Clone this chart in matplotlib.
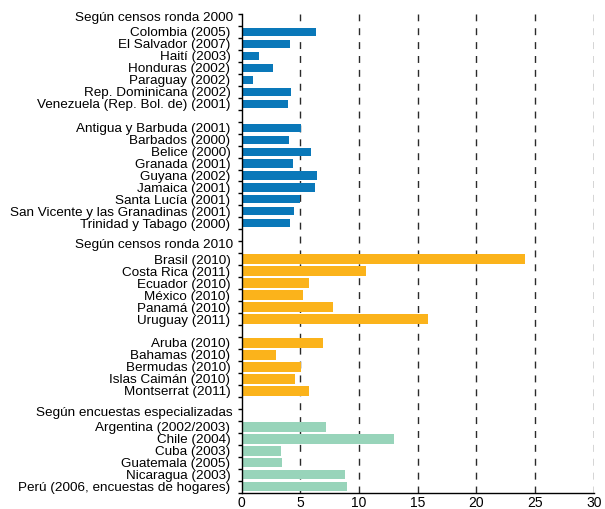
import matplotlib
matplotlib.use("Agg")
import matplotlib.pyplot as plt
import matplotlib.transforms as mtransforms

plt.rcParams['font.family'] = ['Liberation Sans', 'DejaVu Sans']

header_2000 = "Según censos ronda 2000"
censos2000_a = ["Colombia (2005)", "El Salvador (2007)", "Haití (2003)", "Honduras (2002)",
                "Paraguay (2002)", "Rep. Dominicana (2002)", "Venezuela (Rep. Bol. de) (2001)"]
censos2000_a_vals = [6.3, 4.1, 1.45, 2.65, 0.95, 4.2, 3.95]
censos2000_b = ["Antigua y Barbuda (2001)", "Barbados (2000)", "Belice (2000)", "Granada (2001)",
                "Guyana (2002)", "Jamaica (2001)", "Santa Lucía (2001)",
                "San Vicente y las Granadinas (2001)", "Trinidad y Tabago (2000)"]
censos2000_b_vals = [5.05, 4.0, 5.95, 4.35, 6.45, 6.25, 4.95, 4.45, 4.1]

header_2010 = "Según censos ronda 2010"
censos2010_a = ["Brasil (2010)", "Costa Rica (2011)", "Ecuador (2010)", "México (2010)",
                "Panamá (2010)", "Uruguay (2011)"]
censos2010_a_vals = [24.1, 10.6, 5.75, 5.25, 7.8, 15.9]
censos2010_b = ["Aruba (2010)", "Bahamas (2010)", "Bermudas (2010)", "Islas Caimán (2010)",
                "Montserrat (2011)"]
censos2010_b_vals = [6.95, 2.95, 5.05, 4.55, 5.75]

header_enc = "Según encuestas especializadas"
encuestas = ["Argentina (2002/2003)", "Chile (2004)", "Cuba (2003)", "Guatemala (2005)",
             "Nicaragua (2003)", "Perú (2006, encuestas de hogares)"]
encuestas_vals = [7.2, 13.0, 3.4, 3.45, 8.8, 9.0]

x_ticks = [0, 5, 10, 15, 20, 25, 30]

blue = "#0a78b9"
orange = "#fbb31b"
green = "#98d4ba"

# Build row layout
rows = []  # (kind, label, value, color)
rows.append(("header", header_2000, None, None))
for l, v in zip(censos2000_a, censos2000_a_vals):
    rows.append(("bar", l, v, blue))
rows.append(("gap", "", None, None))
for l, v in zip(censos2000_b, censos2000_b_vals):
    rows.append(("bar", l, v, blue))
rows.append(("gap", "", None, None))
rows.append(("header", header_2010, None, None))
for l, v in zip(censos2010_a, censos2010_a_vals):
    rows.append(("bar", l, v, orange))
rows.append(("gap", "", None, None))
for l, v in zip(censos2010_b, censos2010_b_vals):
    rows.append(("bar", l, v, orange))
rows.append(("gap", "", None, None))
rows.append(("header", header_enc, None, None))
for l, v in zip(encuestas, encuestas_vals):
    rows.append(("bar", l, v, green))

fig = plt.figure(figsize=(6.05, 5.09), dpi=100)
ax_top, ax_bot = 14, 492.5
ax = fig.add_axes([241.5 / 605, 1 - ax_bot / 509, (594 - 241.5) / 605, (ax_bot - ax_top) / 509])

n = len(rows)
heights = {blue: 0.68, orange: 0.82, green: 0.82}
bar_pos, bar_vals, bar_cols, bar_h = [], [], [], []
label_pos, label_txt = [], []
for i, (kind, lab, val, col) in enumerate(rows):
    if kind == "bar":
        bar_pos.append(i)
        bar_vals.append(val)
        bar_cols.append(col)
        bar_h.append(heights[col])
        label_pos.append(i)
        label_txt.append(lab)

ax.barh(bar_pos, bar_vals, height=bar_h, color=bar_cols, zorder=2)

for x in x_ticks[1:]:
    ax.axvline(x, color="#2a2a2a", linestyle=(0, (5, 5)), linewidth=1.0, zorder=1)

ax.set_xlim(0, 30)
ax.set_ylim(n - 0.5, -0.5)

fs = 9.7
ax.set_yticks(label_pos)
ax.set_yticklabels(label_txt, fontsize=fs)
ax.tick_params(axis="y", which="major", length=0, pad=8)
ax.set_yticks([k + 0.5 for k in range(-1, n)], minor=True)
ax.tick_params(axis="y", which="minor", length=3, width=1, direction="out")

trans = mtransforms.blended_transform_factory(ax.transAxes, ax.transData)
for i, (kind, lab, val, col) in enumerate(rows):
    if kind == "header":
        ax.text(-8.5 / 352.5, i - 0.18, lab, transform=trans, ha="right", va="center", fontsize=fs)

ax.set_xticks(x_ticks)
ax.set_xticklabels([str(t) for t in x_ticks], fontsize=10)
ax.tick_params(axis="x", length=0, pad=2.5)

for s in ["top", "right"]:
    ax.spines[s].set_visible(False)
ax.spines["left"].set_linewidth(1.0)
ax.spines["bottom"].set_linewidth(1.0)

fig.savefig("out.png", dpi=100)
